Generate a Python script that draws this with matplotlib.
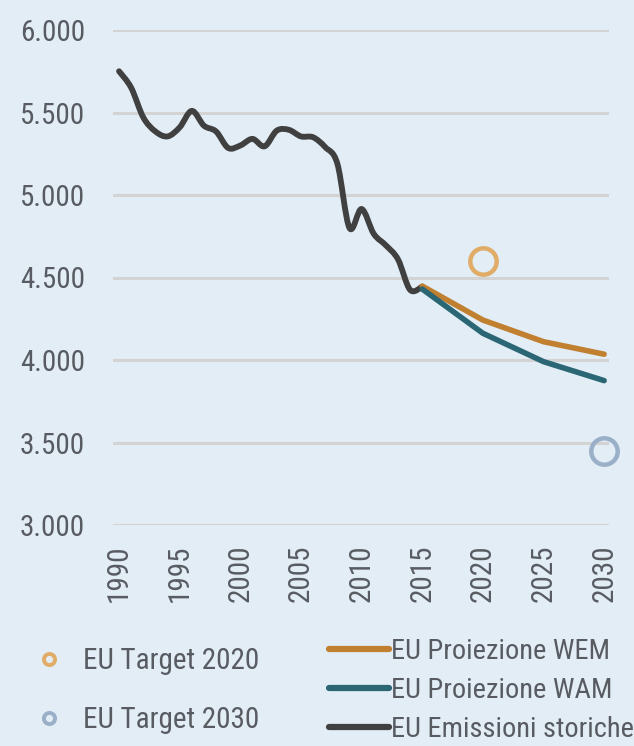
import matplotlib.pyplot as plt
from matplotlib.lines import Line2D
from matplotlib.path import Path
from matplotlib.patches import PathPatch

# Emissioni storiche UE (Mt CO2eq)
hist_years = list(range(1990, 2016))
hist_values = [5750, 5650, 5470, 5385, 5355, 5410, 5510, 5420, 5385, 5285,
               5300, 5340, 5295, 5390, 5395, 5355, 5350, 5290, 5190, 4800,
               4915, 4765, 4695, 4610, 4425, 4445]

proj_years = [2015, 2020, 2025, 2030]
wem_values = [4448, 4242, 4111, 4035]
wam_values = [4430, 4162, 3990, 3875]

target_years = [2020, 2030]
target_values = [4600, 3450]

y_ticks = [3000, 3500, 4000, 4500, 5000, 5500, 6000]
y_tick_labels = ["3.000", "3.500", "4.000", "4.500", "5.000", "5.500", "6.000"]
x_ticks = list(range(1990, 2031, 5))

BG = "#E2EDF6"
GRID = "#D3D3D3"
TEXT = "#585C62"
C_HIST = "#404040"
C_WEM = "#C17F30"
C_WAM = "#2A6674"
C_T2020 = "#E0AC68"
C_T2030 = "#9AB0C8"
FS = 21

plt.rcParams["font.family"] = ["Roboto Condensed", "Roboto", "DejaVu Sans"]


def smooth_path(xs, ys):
    # curva liscia tipo Excel: Catmull-Rom convertita in Bezier cubiche
    pts = list(zip(xs, ys))
    verts = [pts[0]]
    codes = [Path.MOVETO]
    n = len(pts)
    for i in range(n - 1):
        p0 = pts[i - 1] if i > 0 else pts[i]
        p1 = pts[i]
        p2 = pts[i + 1]
        p3 = pts[i + 2] if i + 2 < n else pts[i + 1]
        c1 = (p1[0] + (p2[0] - p0[0]) / 6, p1[1] + (p2[1] - p0[1]) / 6)
        c2 = (p2[0] - (p3[0] - p1[0]) / 6, p2[1] - (p3[1] - p1[1]) / 6)
        verts += [c1, c2, p2]
        codes += [Path.CURVE4] * 3
    return Path(verts, codes)


fig = plt.figure(figsize=(6.34, 7.46), dpi=100)
fig.patch.set_facecolor(BG)
ax = fig.add_axes([113 / 634, (746 - 525) / 746, (609 - 113) / 634, 495 / 746])
ax.set_facecolor(BG)

hist_patch = PathPatch(smooth_path(hist_years, hist_values), facecolor="none",
                       edgecolor=C_HIST, lw=4.2, capstyle="round", joinstyle="round",
                       zorder=3)
ax.add_patch(hist_patch)
ax.plot(proj_years, wem_values, color=C_WEM, lw=4.0, solid_capstyle="round",
        solid_joinstyle="round", zorder=4)
ax.plot(proj_years, wam_values, color=C_WAM, lw=4.0, solid_capstyle="round",
        solid_joinstyle="round", zorder=5)
ax.plot(target_years[:1], target_values[:1], "o", ms=19, mfc="none", mec=C_T2020,
        mew=3.2, zorder=6, clip_on=False)
ax.plot(target_years[1:], target_values[1:], "o", ms=19, mfc="none", mec=C_T2030,
        mew=3.2, zorder=6, clip_on=False)

ax.set_xlim(1989.5, 2030.4)
ax.set_ylim(3000, 6000)
ax.set_yticks(y_ticks)
ax.set_yticklabels(y_tick_labels)
ax.set_xticks(x_ticks)
ax.set_xticklabels([str(y) for y in x_ticks], rotation=90)
ax.tick_params(axis="both", length=0, labelsize=FS, colors=TEXT)
ax.tick_params(axis="y", pad=20)
ax.tick_params(axis="x", pad=14)
ax.yaxis.grid(True, color=GRID, lw=2.2)
ax.set_axisbelow(True)
for spine in ax.spines.values():
    spine.set_visible(False)

left_handles = [
    Line2D([], [], ls="none", marker="o", ms=8, mfc="none", mec=C_T2020, mew=2.8),
    Line2D([], [], ls="none", marker="o", ms=8, mfc="none", mec=C_T2030, mew=2.8),
]
fig.legend(left_handles, ["EU Target 2020", "EU Target 2030"],
           loc="upper left", bbox_to_anchor=(34 / 634, 1 - 647 / 746),
           frameon=False, fontsize=FS, labelcolor=TEXT, labelspacing=1.08,
           handlelength=1.0, handletextpad=0.68, borderpad=0, borderaxespad=0)

right_handles = [
    Line2D([], [], color=C_WEM, lw=4.5, solid_capstyle="round"),
    Line2D([], [], color=C_WAM, lw=4.5, solid_capstyle="round"),
    Line2D([], [], color=C_HIST, lw=4.5, solid_capstyle="round"),
]
fig.legend(right_handles, ["EU Proiezione WEM", "EU Proiezione WAM", "EU Emissioni storiche"],
           loc="upper left", bbox_to_anchor=(329 / 634, 1 - 638 / 746),
           frameon=False, fontsize=20.4, labelcolor=TEXT, labelspacing=0.42,
           handlelength=2.1, handletextpad=0.08, borderpad=0, borderaxespad=0)

fig.savefig("out.png", dpi=100, facecolor=BG)
